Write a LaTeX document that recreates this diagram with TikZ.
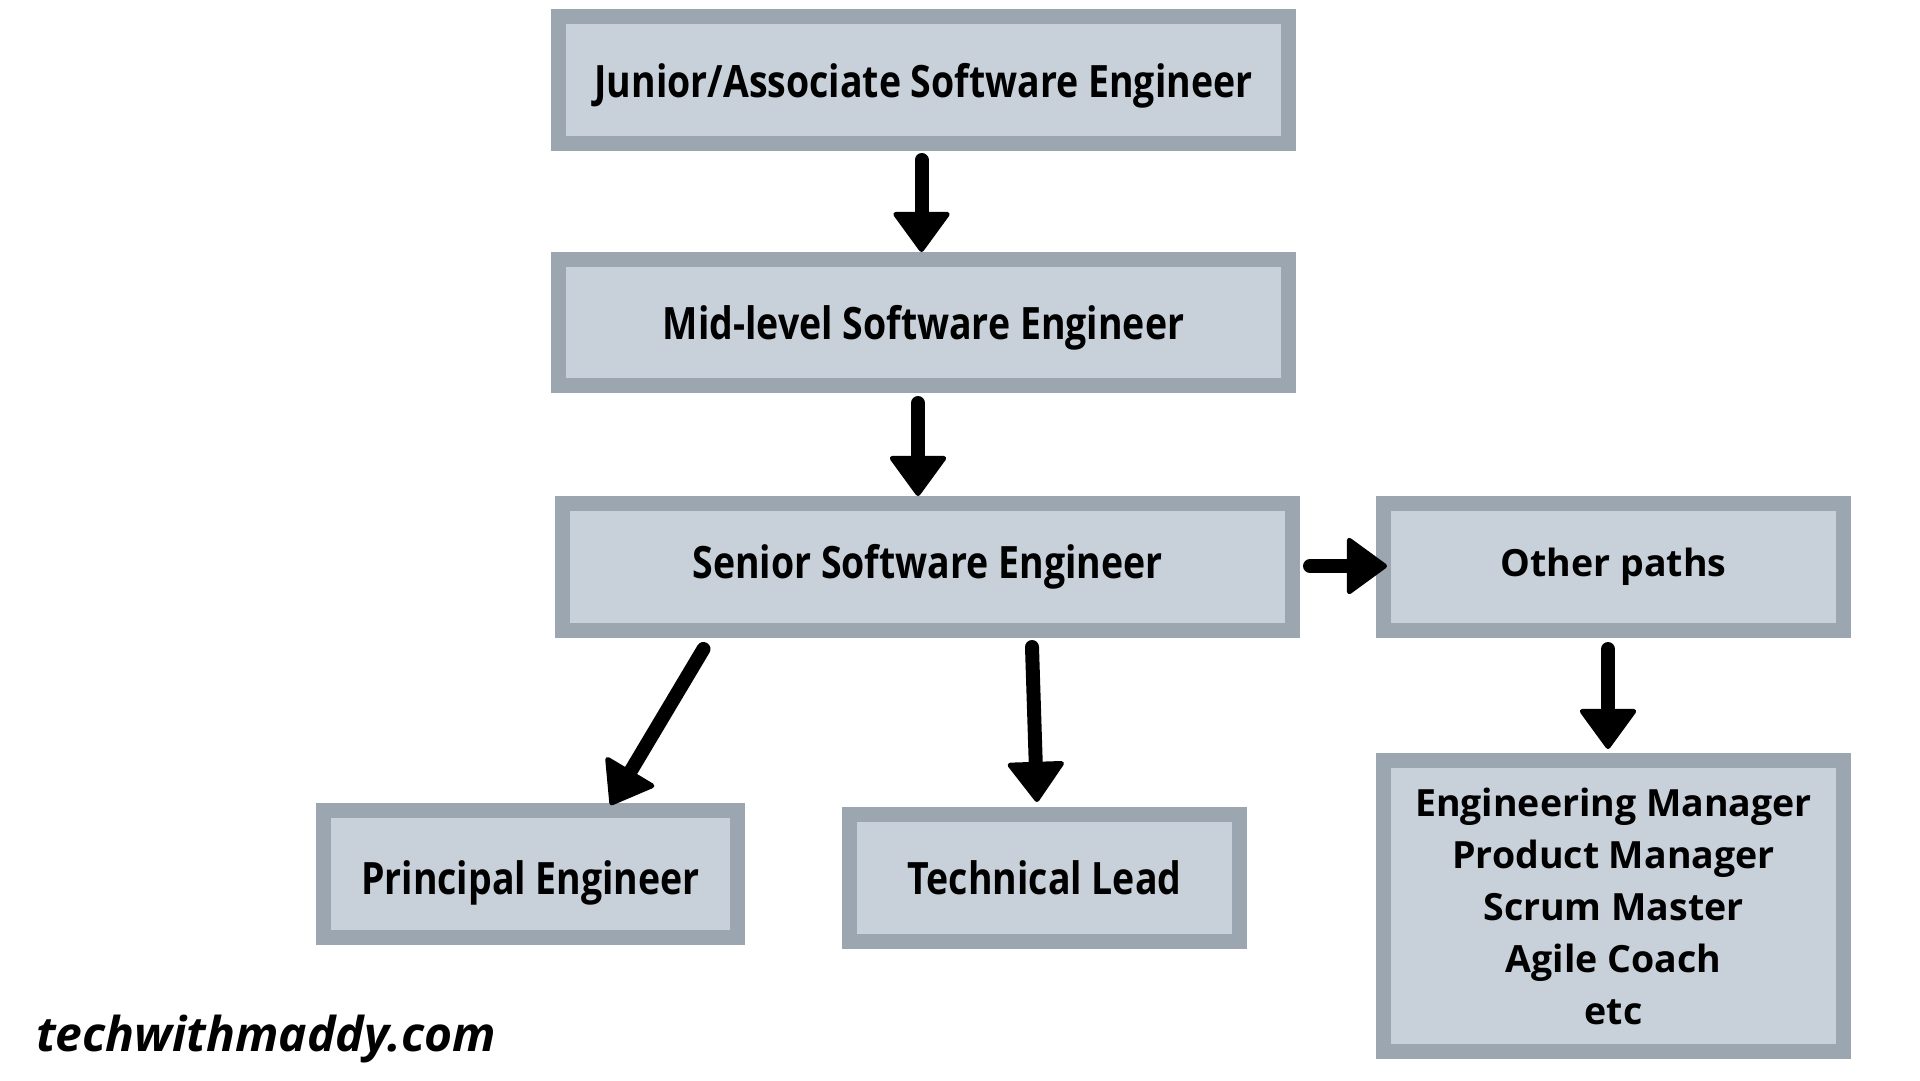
\documentclass[tikz,border=0pt]{standalone}
\usepackage{fontspec}
\setmainfont{Open Sans}
\newfontfamily\condfont{Open Sans}[FakeStretch=0.84]
\usetikzlibrary{arrows.meta}
\definecolor{boxedge}{RGB}{155,166,177}
\definecolor{boxfill}{RGB}{200,208,217}

\begin{document}
\begin{tikzpicture}[x=1pt, y=-1pt,
    stepbox/.style={draw=boxedge, fill=boxfill, line width=15pt, inner sep=0pt, text depth=0pt,
      font=\condfont\bfseries\fontsize{44.6}{52}\selectfont},
    widebox/.style={stepbox, align=center, font=\bfseries\fontsize{37.5}{52}\selectfont},
    arr/.style={line width=14pt, line cap=round,
      -{Triangle[width=60pt, length=42pt, line width'=5pt, round]}}]
  \useasboundingbox (0,0) rectangle (1920,1080);
  % Junior
  \node[stepbox, minimum width=730pt, minimum height=127pt] (junior) at (923.5,80) {Junior/Associate Software Engineer};
  % Mid-level
  \node[stepbox, minimum width=730pt, minimum height=126pt] (mid) at (923.5,322.5) {Mid-level Software Engineer};
  % Senior
  \node[stepbox, text depth=11pt, minimum width=730pt, minimum height=127pt] (senior) at (927.5,567) {Senior Software Engineer};
  % Other paths
  \node[widebox, text depth=9pt, minimum width=460pt, minimum height=127pt] (other) at (1613.5,567) {Other paths};
  % Principal
  \node[stepbox, text height=41.5pt, minimum width=414pt, minimum height=127pt] (principal) at (530.5,874) {Principal Engineer};
  % Technical Lead
  \node[stepbox, minimum width=390pt, minimum height=127pt] (techlead) at (1044.5,878) {Technical Lead};
  % Managers etc
  \node[widebox, minimum width=460pt, minimum height=291pt] (managers) at (1613.5,906)
    {Engineering Manager\\Product Manager\\Scrum Master\\Agile Coach\\etc};
  % site name
  \node[font=\bfseries\itshape\fontsize{48}{56}\selectfont] (site) at (266,1039) {techwithmaddy.com};

  % arrows
  \draw[arr] ([xshift=-2pt, yshift=-9pt]junior.south) -- ([xshift=-2pt]mid.north);
  \draw[arr] ([xshift=-5.5pt, yshift=-10pt]mid.south) -- ([xshift=-9.5pt]senior.north);
  \draw[arr] ([xshift=10pt, yshift=1pt]senior.east) -- ([xshift=11pt, yshift=1pt]other.west);
  \draw[arr] ([xshift=148.5pt, yshift=-11pt]senior.south west) -- ([xshift=80pt, yshift=-2pt]principal.north);
  \draw[arr] ([xshift=104.5pt, yshift=-9pt]senior.south) -- ([xshift=-7.5pt, yshift=5pt]techlead.north);
  \draw[arr] ([xshift=-5.5pt, yshift=-11pt]other.south) -- ([xshift=-5.5pt, yshift=4pt]managers.north);
\end{tikzpicture}
\end{document}
